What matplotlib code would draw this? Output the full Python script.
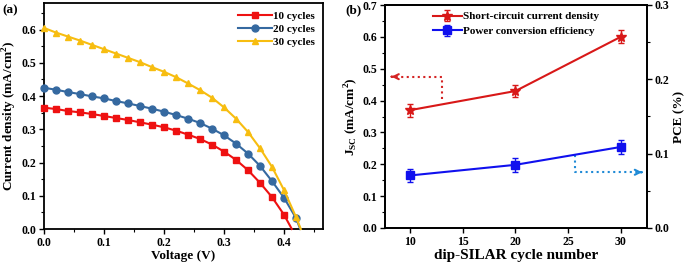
import numpy as np
import matplotlib.pyplot as plt
from matplotlib.ticker import MultipleLocator

plt.rcParams['font.family'] = ['Liberation Serif', 'DejaVu Serif']
plt.rcParams['font.weight'] = 'bold'
plt.rcParams['mathtext.fontset'] = 'custom'
plt.rcParams['mathtext.rm'] = 'Liberation Serif:bold'
plt.rcParams['mathtext.bf'] = 'Liberation Serif:bold'

# (a) J-V curves, last point of each is the zero crossing (no marker)
voltage = [0.00, 0.02, 0.04, 0.06, 0.08, 0.10, 0.12, 0.14, 0.16, 0.18, 0.20,
           0.22, 0.24, 0.26, 0.28, 0.30, 0.32, 0.34, 0.36, 0.38, 0.40, 0.42]
j10 = [0.365, 0.361, 0.355, 0.351, 0.346, 0.340, 0.334, 0.328, 0.321, 0.314, 0.306,
       0.296, 0.284, 0.271, 0.254, 0.233, 0.208, 0.177, 0.139, 0.096, 0.043]
j20 = [0.425, 0.419, 0.412, 0.406, 0.399, 0.393, 0.385, 0.378, 0.370, 0.362, 0.353,
       0.343, 0.332, 0.319, 0.302, 0.282, 0.257, 0.227, 0.190, 0.144, 0.094, 0.033]
j30 = [0.605, 0.591, 0.579, 0.567, 0.554, 0.541, 0.528, 0.515, 0.502, 0.487, 0.473,
       0.457, 0.438, 0.418, 0.395, 0.366, 0.332, 0.292, 0.243, 0.187, 0.117, 0.036]
voc = [0.413, 0.427, 0.428]

# (b) summary vs cycle number
cycles = [10, 20, 30]
jsc = [0.37, 0.43, 0.60]
jsc_err = [0.02, 0.02, 0.02]
pce = [0.0707, 0.085, 0.109]
pce_err = [0.009, 0.009, 0.009]

fig = plt.figure(figsize=(6.85, 2.68), dpi=100)
W, H = 685, 268
ax1 = fig.add_axes([44 / W, 1 - 229 / H, (323 - 44) / W, (229 - 3) / H])
ax2 = fig.add_axes([385 / W, 1 - 228 / H, (647 - 385) / W, (228 - 5) / H])

fs_tick = 8.5
fs_lab = 9.5

for ax in (ax1, ax2):
    for s in ax.spines.values():
        s.set_linewidth(1.3)
    ax.tick_params(which='major', direction='out', length=3.5, width=1, labelsize=fs_tick, pad=2)
    ax.tick_params(which='minor', direction='out', length=2, width=0.8)

series = [(j10, voc[0], '#ee1111', 's', '10 cycles'),
          (j20, voc[1], '#3569a0', 'o', '20 cycles'),
          (j30, voc[2], '#f7bd10', '^', '30 cycles')]
for j, v0, c, m, lab in series:
    x = voltage[:len(j)] + [v0]
    y = j + [0.0]
    ax1.plot(x, y, color=c, marker=m, markersize=5, lw=1.5,
             markevery=slice(0, len(j)), label=lab, clip_on=False, zorder=3)

ax1.set_xlim(0, 0.465)
ax1.set_ylim(0, 0.68)
ax1.xaxis.set_major_locator(MultipleLocator(0.1))
ax1.xaxis.set_minor_locator(MultipleLocator(0.05))
ax1.yaxis.set_major_locator(MultipleLocator(0.1))
ax1.yaxis.set_minor_locator(MultipleLocator(0.05))
ax1.xaxis.set_major_formatter(plt.FormatStrFormatter('%.1f'))
ax1.yaxis.set_major_formatter(plt.FormatStrFormatter('%.1f'))
ax1.set_xlabel('Voltage (V)', fontsize=fs_lab, fontweight='bold', labelpad=1)
ax1.set_ylabel('Current density (mA/cm$^2$)', fontsize=fs_lab, fontweight='bold', labelpad=2)
ax1.legend(loc='upper right', frameon=False, handlelength=3.0,
           handletextpad=0.15, labelspacing=0.3, borderaxespad=0.3,
           prop={'weight': 'bold', 'size': 8})
fig.text(2 / W, 1 - 10 / H, '(a)', fontsize=9.5, fontweight='bold', va='center')

# panel (b)
red = '#d81818'
blue = '#1010ee'
ax3 = ax2.twinx()
ax2.errorbar(cycles, jsc, yerr=jsc_err, color=red, marker='*', markersize=7, lw=1.5,
             capsize=2.5, elinewidth=1, capthick=1, label='Short-circuit current density')
ax3.errorbar(cycles, pce, yerr=pce_err, color=blue, marker='s', markersize=5.5, lw=1.5,
             capsize=2.5, elinewidth=1, capthick=1, label='Power conversion efficiency')
ax2.set_xlim(7.6, 32.5)
ax2.set_ylim(0, 0.7)
ax3.set_ylim(0, 0.3)
ax2.xaxis.set_major_locator(MultipleLocator(5))
ax2.yaxis.set_major_locator(MultipleLocator(0.1))
ax2.yaxis.set_minor_locator(MultipleLocator(0.05))
ax3.yaxis.set_major_locator(MultipleLocator(0.1))
ax3.yaxis.set_minor_locator(MultipleLocator(0.05))
ax2.yaxis.set_major_formatter(plt.FormatStrFormatter('%.1f'))
ax3.yaxis.set_major_formatter(plt.FormatStrFormatter('%.1f'))
ax3.tick_params(which='major', direction='out', length=3.5, width=1, labelsize=fs_tick, pad=2)
ax3.tick_params(which='minor', direction='out', length=2, width=0.8)
for s in ax3.spines.values():
    s.set_linewidth(1.3)
ax2.set_xlabel('dip-SILAR cycle number', fontsize=fs_lab + 1.5, fontweight='bold', labelpad=1)
ax2.set_ylabel('J$_{\\mathregular{SC}}$ (mA/cm$^2$)', fontsize=fs_lab, fontweight='bold', labelpad=2)
ax3.set_ylabel('PCE (%)', fontsize=fs_lab, fontweight='bold', labelpad=3)

h1, l1 = ax2.get_legend_handles_labels()
h2, l2 = ax3.get_legend_handles_labels()
ax2.legend(h1 + h2, l1 + l2, loc='upper center', bbox_to_anchor=(0.5, 1.0), frameon=False,
           handlelength=2.6, handletextpad=0.15, labelspacing=0.45, borderaxespad=0.2,
           prop={'weight': 'bold', 'size': 8})

# direction arrows
arrow_red = '#d42424'
arrow_blue = '#1f8ad6'
ax2.plot([13.0, 13.0, 8.3], [0.404, 0.475, 0.475], ls=':', color=arrow_red, lw=1.5)
ax2.annotate('', xy=(7.95, 0.475), xytext=(8.5, 0.475),
             arrowprops=dict(arrowstyle='->', color=arrow_red, lw=1.5, mutation_scale=9))
ax3.plot([25.7, 25.7, 31.8], [0.098, 0.075, 0.075], ls=':', color=arrow_blue, lw=1.5)
ax3.annotate('', xy=(32.3, 0.075), xytext=(31.7, 0.075),
             arrowprops=dict(arrowstyle='->', color=arrow_blue, lw=1.5, mutation_scale=9))
fig.text(345 / W, 1 - 10 / H, '(b)', fontsize=9.5, fontweight='bold', va='center')

fig.savefig('out.png', dpi=100)
